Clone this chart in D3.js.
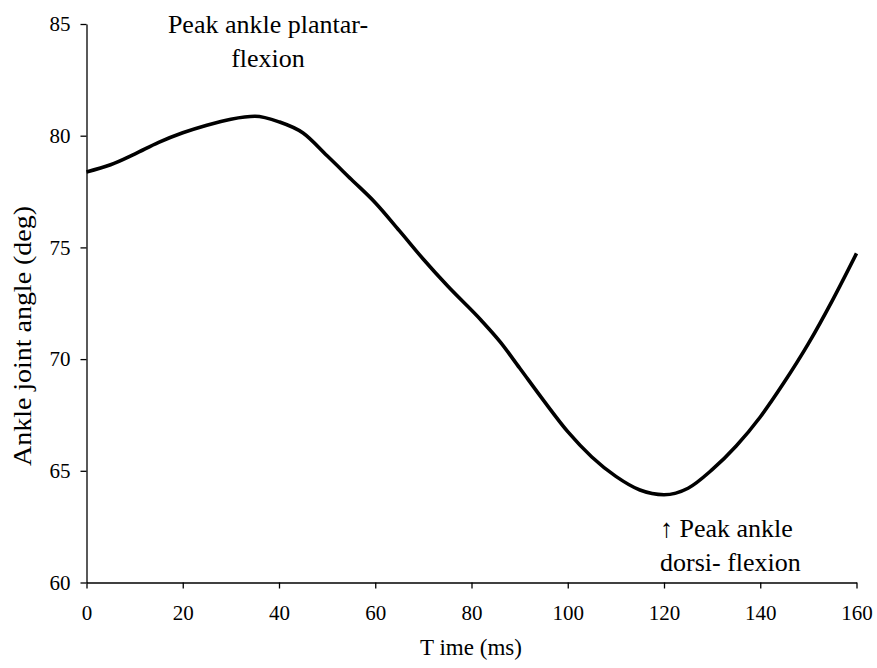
<!DOCTYPE html>
<html>
<head>
<meta charset="utf-8">
<script src="https://cdn.jsdelivr.net/npm/d3@7"></script>
<style>
  html, body { margin: 0; padding: 0; background: #fff; }
  svg { display: block; }
  svg text { font-family: "Liberation Serif", "DejaVu Serif", "Tinos", "Times New Roman", Times, serif; fill: #000; }
</style>
</head>
<body>
<svg id="chart" width="877" height="668"></svg>
<script>
// Ankle joint angle over time (ms)
const timeMs = [0, 5, 10, 15, 20, 25, 30, 35, 40, 45, 50, 55, 60, 65, 70, 75, 82, 86, 90,
                95, 100, 105, 110, 115, 120, 125, 130, 135, 140, 145, 150, 155, 160];
const angleDeg = [78.38, 78.70, 79.18, 79.70, 80.13, 80.47, 80.74, 80.87, 80.62, 80.12, 79.10, 78.05,
                  77.00, 75.75, 74.47, 73.28, 71.74, 70.76, 69.60, 68.14, 66.75, 65.62, 64.75,
                  64.14, 63.93, 64.22, 65.05, 66.11, 67.41, 68.97, 70.69, 72.63, 74.73];
const xTicks = [0, 20, 40, 60, 80, 100, 120, 140, 160];
const yTicks = [60, 65, 70, 75, 80, 85];

// Annotation lines: [text, x, baseline y, anchor]
const notePlantar = [["Peak ankle plantar-", 268, 33, "middle"], ["flexion", 268, 67, "middle"]];
const noteDorsi = [["\u2191 Peak ankle", 660, 537, "start"], ["dorsi- flexion", 660, 571, "start"]];

const FONT = '"Liberation Serif", "DejaVu Serif", "Tinos", "Times New Roman", Times, serif';
const svg = d3.select("#chart");

const x = d3.scaleLinear().domain([0, 160]).range([86.5, 856.5]);
const y = d3.scaleLinear().domain([60, 85]).range([582.5, 24]);

// Axes
const xAxis = d3.axisBottom(x).tickValues(xTicks).tickSize(6).tickSizeOuter(0).tickPadding(16.5);
const yAxis = d3.axisLeft(y).tickValues(yTicks).tickSize(6).tickSizeOuter(0).tickPadding(10);

const gx = svg.append("g").attr("transform", `translate(0,${y(60)})`).call(xAxis);
const gy = svg.append("g").attr("transform", `translate(${x(0)},0)`).call(yAxis);

[gx, gy].forEach(g => {
  g.attr("font-family", FONT).attr("font-size", 21);
  g.selectAll("path.domain").attr("stroke", "#000").attr("stroke-width", 1.3);
  g.selectAll(".tick line").attr("stroke", "#000").attr("stroke-width", 1.3);
  g.selectAll(".tick text")
    .attr("font-family", FONT)
    .style("font-family", FONT)
    .style("font-size", "21px")
    .attr("fill", "#000");
});

// Curve
const line = d3.line()
  .x((d, i) => x(timeMs[i]))
  .y(d => y(d))
  .curve(d3.curveMonotoneX);

svg.append("path")
  .datum(angleDeg)
  .attr("d", line)
  .attr("fill", "none")
  .attr("stroke", "#000")
  .attr("stroke-width", 3.6)
  .attr("stroke-linejoin", "round");

// Axis titles
svg.append("text")
  .attr("x", 471)
  .attr("y", 655)
  .attr("text-anchor", "middle")
  .style("font-family", FONT)
  .style("font-size", "23px")
  .text("T ime (ms)");

svg.append("text")
  .attr("transform", "translate(31,336) rotate(-90)")
  .attr("text-anchor", "middle")
  .attr("textLength", 260)
  .attr("lengthAdjust", "spacingAndGlyphs")
  .style("font-family", FONT)
  .style("font-size", "25px")
  .text("Ankle joint angle (deg)");

// Annotations
svg.selectAll("text.note")
  .data(notePlantar.concat(noteDorsi))
  .join("text")
  .attr("class", "note")
  .attr("x", d => d[1])
  .attr("y", d => d[2])
  .attr("text-anchor", d => d[3])
  .style("font-family", FONT)
  .style("font-size", "26px")
  .text(d => d[0]);
</script>
</body>
</html>
